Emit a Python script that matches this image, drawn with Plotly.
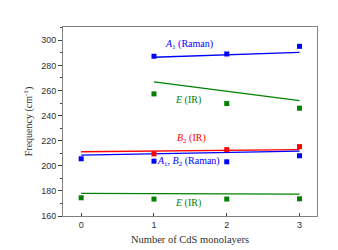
import plotly.graph_objects as go

# Data
x_all = [0, 1, 2, 3]
x_123 = [1, 2, 3]
a1_raman = [287.3, 289.1, 295.2]          # x = 1,2,3
e_ir_high = [257.3, 249.6, 245.9]         # x = 1,2,3
b2_ir = [209.5, 212.9, 215.3]             # x = 1,2,3
a1b2_raman = [205.6, 203.7, 203.2, 208.0] # x = 0..3
e_ir_low = [174.5, 173.5, 173.5, 173.7]   # x = 0..3

# fitted trend lines (endpoints)
fit_a1_x, fit_a1_y = [1, 3], [286.5, 290.4]
fit_ehigh_x, fit_ehigh_y = [1, 3], [266.8, 252.0]
fit_b2_x, fit_b2_y = [0, 3], [211.2, 212.9]
fit_a1b2_x, fit_a1b2_y = [0, 3], [208.5, 211.7]
fit_elow_x, fit_elow_y = [0, 3], [178.0, 177.5]

x_ticks = [0, 1, 2, 3]
y_ticks = [160, 180, 200, 220, 240, 260, 280, 300]

BLUE = "#0000ff"
GREEN = "#008000"
RED = "#ff0000"

fig = go.Figure()

def line(x, y, c):
    fig.add_trace(go.Scatter(x=x, y=y, mode="lines", line=dict(color=c, width=1.3),
                             showlegend=False, hoverinfo="skip"))

def pts(x, y, c):
    fig.add_trace(go.Scatter(x=x, y=y, mode="markers",
                             marker=dict(symbol="square", size=5, color=c),
                             showlegend=False))

line(fit_a1_x, fit_a1_y, BLUE)
line(fit_ehigh_x, fit_ehigh_y, GREEN)
line(fit_b2_x, fit_b2_y, RED)
line(fit_a1b2_x, fit_a1b2_y, BLUE)
line(fit_elow_x, fit_elow_y, GREEN)

pts(x_123, a1_raman, BLUE)
pts(x_123, e_ir_high, GREEN)
pts(x_123, b2_ir, RED)
pts(x_all, a1b2_raman, BLUE)
pts(x_all, e_ir_low, GREEN)

labels = [
    (1.48, 297.0, "<i>A</i><sub>1</sub> (Raman)", BLUE),
    (1.47, 252.5, "<i>E</i> (IR)", GREEN),
    (1.51, 221.5, "<i>B</i><sub>2</sub> (IR)", RED),
    (1.48, 203.2, "<i>A</i><sub>1</sub>, <i>B</i><sub>2</sub> (Raman)", BLUE),
    (1.47, 170.0, "<i>E</i> (IR)", GREEN),
]
for lx, ly, t, c in labels:
    fig.add_annotation(x=lx, y=ly, text=t, showarrow=False,
                       font=dict(family="Liberation Serif", size=10, color=c))

axis_common = dict(showline=True, linecolor="#808080", linewidth=1, mirror=True,
                   showgrid=False, zeroline=False, tickcolor="#404040",
                   tickfont=dict(family="Liberation Sans", size=9, color="#303030"))

fig.update_xaxes(range=[-0.25, 3.24], tickvals=x_ticks, ticks="inside", ticklen=3,
                 title=dict(text="Number of CdS monolayers",
                            font=dict(family="Liberation Serif", size=10.5, color="#303030"),
                            standoff=6),
                 **axis_common)
fig.update_yaxes(range=[160, 310.6], tickvals=y_ticks, ticks="outside", ticklen=4,
                 minor=dict(dtick=10, tick0=0, ticks="outside", ticklen=2, tickcolor="#404040"),
                 title=dict(text="Frequency (cm<sup>-1</sup>)",
                            font=dict(family="Liberation Serif", size=10, color="#303030"),
                            standoff=6),
                 **axis_common)

fig.update_layout(width=338, height=250, margin=dict(l=55, r=29, t=19, b=42),
                  plot_bgcolor="white", paper_bgcolor="white")

fig.write_html("out.html")
